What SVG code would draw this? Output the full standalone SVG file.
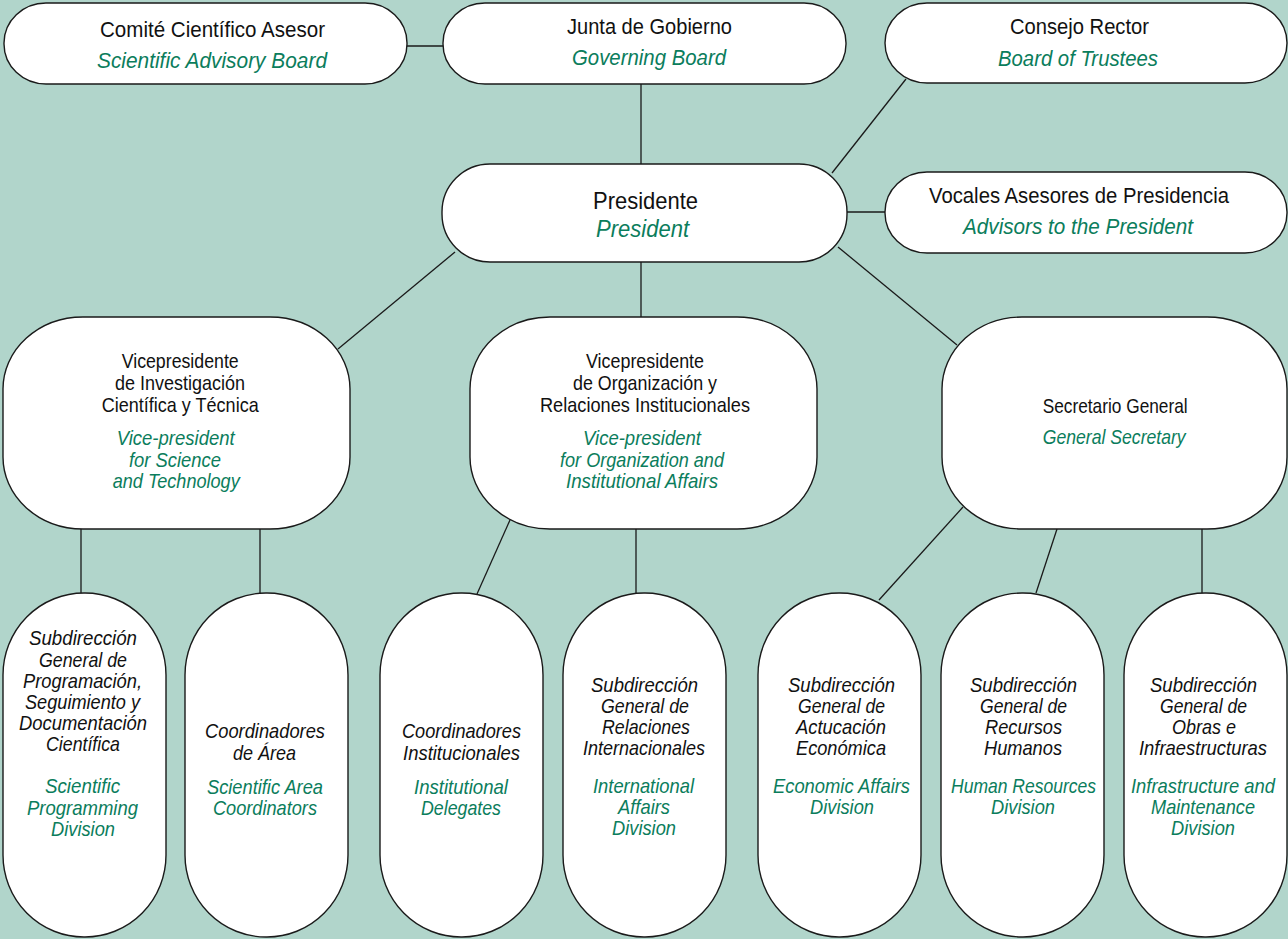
<svg xmlns="http://www.w3.org/2000/svg" width="1288" height="939" viewBox="0 0 1288 939">
<style>
.box{fill:#fff;stroke:#1a1a1a;stroke-width:1.4}
.ln{stroke:#1a1a1a;stroke-width:1.3;fill:none}
text{font-family:"Liberation Sans",Arial,sans-serif;text-anchor:start}
.k{fill:#111}
.g{fill:#0b7d5c;font-style:italic}
.i{font-style:italic}
.s1{font-size:22px}
.s2{font-size:24px}
.s3{font-size:21px}
</style>
<rect width="1288" height="939" fill="#b1d5cb"/>
<g id="connectors">
<line class="ln" x1="407" y1="46" x2="443" y2="46"/>
<line class="ln" x1="641" y1="84" x2="641" y2="164"/>
<line class="ln" x1="906" y1="79" x2="832" y2="173"/>
<line class="ln" x1="847" y1="212" x2="885" y2="212"/>
<line class="ln" x1="455" y1="252" x2="338" y2="349"/>
<line class="ln" x1="641" y1="262" x2="641" y2="317"/>
<line class="ln" x1="838" y1="247" x2="957" y2="345"/>
<line class="ln" x1="81" y1="529" x2="81" y2="593"/>
<line class="ln" x1="260" y1="529" x2="260" y2="593"/>
<line class="ln" x1="510" y1="520" x2="477" y2="594"/>
<line class="ln" x1="636" y1="529" x2="636" y2="593"/>
<line class="ln" x1="963" y1="507" x2="879" y2="600"/>
<line class="ln" x1="1057" y1="529" x2="1036" y2="593"/>
<line class="ln" x1="1202" y1="529" x2="1202" y2="593"/>
</g>
<g id="comite">
<rect class="box" x="4" y="3" width="403" height="81" rx="42" ry="40"/>
<text class="k s1" x="100" y="37" textLength="225" lengthAdjust="spacingAndGlyphs">Comité Científico Asesor</text>
<text class="g s1" x="97" y="68" textLength="230" lengthAdjust="spacingAndGlyphs">Scientific Advisory Board</text>
</g>
<g id="junta">
<rect class="box" x="443" y="3" width="403" height="81" rx="42" ry="40"/>
<text class="k s1" x="567" y="34" textLength="165" lengthAdjust="spacingAndGlyphs">Junta de Gobierno</text>
<text class="g s1" x="572" y="65" textLength="154" lengthAdjust="spacingAndGlyphs">Governing Board</text>
</g>
<g id="consejo">
<rect class="box" x="885" y="3" width="402" height="80" rx="42" ry="40"/>
<text class="k s1" x="1010" y="34" textLength="139" lengthAdjust="spacingAndGlyphs">Consejo Rector</text>
<text class="g s1" x="998" y="66" textLength="160" lengthAdjust="spacingAndGlyphs">Board of Trustees</text>
</g>
<g id="presidente">
<rect class="box" x="442" y="164" width="405" height="98" rx="48" ry="48"/>
<text class="k s2" x="593" y="209" textLength="105" lengthAdjust="spacingAndGlyphs">Presidente</text>
<text class="g s2" x="596" y="237" textLength="93" lengthAdjust="spacingAndGlyphs">President</text>
</g>
<g id="vocales">
<rect class="box" x="885" y="172" width="402" height="81" rx="42" ry="40"/>
<text class="k s1" x="929" y="203" textLength="300" lengthAdjust="spacingAndGlyphs">Vocales Asesores de Presidencia</text>
<text class="g s1" x="963" y="234" textLength="230" lengthAdjust="spacingAndGlyphs">Advisors to the President</text>
</g>
<g id="vp1">
<rect class="box" x="3" y="317" width="347" height="212" rx="80" ry="72"/>
<text class="k s3" x="121.7" y="368" textLength="117" lengthAdjust="spacingAndGlyphs">Vicepresidente</text>
<text class="k s3" x="115" y="390" textLength="130" lengthAdjust="spacingAndGlyphs">de Investigación</text>
<text class="k s3" x="101.7" y="411.5" textLength="157" lengthAdjust="spacingAndGlyphs">Científica y Técnica</text>
<text class="g s3" x="116.7" y="445" textLength="118" lengthAdjust="spacingAndGlyphs">Vice-president</text>
<text class="g s3" x="129" y="466.5" textLength="92" lengthAdjust="spacingAndGlyphs">for Science</text>
<text class="g s3" x="112.7" y="488" textLength="127" lengthAdjust="spacingAndGlyphs">and Technology</text>
</g>
<g id="vp2">
<rect class="box" x="470" y="317" width="347" height="212" rx="80" ry="72"/>
<text class="k s3" x="586" y="368" textLength="118" lengthAdjust="spacingAndGlyphs">Vicepresidente</text>
<text class="k s3" x="573" y="390" textLength="144" lengthAdjust="spacingAndGlyphs">de Organización y</text>
<text class="k s3" x="540" y="411.5" textLength="210" lengthAdjust="spacingAndGlyphs">Relaciones Institucionales</text>
<text class="g s3" x="583" y="445" textLength="118" lengthAdjust="spacingAndGlyphs">Vice-president</text>
<text class="g s3" x="560" y="466.5" textLength="164" lengthAdjust="spacingAndGlyphs">for Organization and</text>
<text class="g s3" x="566" y="488" textLength="152" lengthAdjust="spacingAndGlyphs">Institutional Affairs</text>
</g>
<g id="sg">
<rect class="box" x="942" y="317" width="345" height="212" rx="80" ry="72"/>
<text class="k s3" x="1042.7" y="412.7" textLength="145" lengthAdjust="spacingAndGlyphs">Secretario General</text>
<text class="g s3" x="1042.7" y="444" textLength="143" lengthAdjust="spacingAndGlyphs">General Secretary</text>
</g>
<g id="sub1">
<rect class="box" x="3" y="593" width="163" height="344" rx="81" ry="82"/>
<text class="k s3 i" x="29" y="645" textLength="108" lengthAdjust="spacingAndGlyphs">Subdirección</text>
<text class="k s3 i" x="39" y="666.5" textLength="88" lengthAdjust="spacingAndGlyphs">General de</text>
<text class="k s3 i" x="23" y="688" textLength="119" lengthAdjust="spacingAndGlyphs">Programación,</text>
<text class="k s3 i" x="25" y="709" textLength="115" lengthAdjust="spacingAndGlyphs">Seguimiento y</text>
<text class="k s3 i" x="19" y="730" textLength="128" lengthAdjust="spacingAndGlyphs">Documentación</text>
<text class="k s3 i" x="46" y="751" textLength="74" lengthAdjust="spacingAndGlyphs">Científica</text>
<text class="g s3" x="45" y="793" textLength="75" lengthAdjust="spacingAndGlyphs">Scientific</text>
<text class="g s3" x="27" y="815" textLength="111" lengthAdjust="spacingAndGlyphs">Programming</text>
<text class="g s3" x="51" y="836" textLength="64" lengthAdjust="spacingAndGlyphs">Division</text>
</g>
<g id="sub2">
<rect class="box" x="185" y="593" width="163" height="344" rx="81" ry="82"/>
<text class="k s3 i" x="205" y="738" textLength="120" lengthAdjust="spacingAndGlyphs">Coordinadores</text>
<text class="k s3 i" x="233" y="760" textLength="63" lengthAdjust="spacingAndGlyphs">de Área</text>
<text class="g s3" x="207" y="794" textLength="116" lengthAdjust="spacingAndGlyphs">Scientific Area</text>
<text class="g s3" x="213" y="815" textLength="104" lengthAdjust="spacingAndGlyphs">Coordinators</text>
</g>
<g id="sub3">
<rect class="box" x="380" y="593" width="163" height="344" rx="81" ry="82"/>
<text class="k s3 i" x="402" y="738" textLength="119" lengthAdjust="spacingAndGlyphs">Coordinadores</text>
<text class="k s3 i" x="403" y="760" textLength="117" lengthAdjust="spacingAndGlyphs">Institucionales</text>
<text class="g s3" x="414" y="794" textLength="94" lengthAdjust="spacingAndGlyphs">Institutional</text>
<text class="g s3" x="421" y="815" textLength="80" lengthAdjust="spacingAndGlyphs">Delegates</text>
</g>
<g id="sub4">
<rect class="box" x="563" y="593" width="163" height="344" rx="81" ry="82"/>
<text class="k s3 i" x="591" y="692" textLength="107" lengthAdjust="spacingAndGlyphs">Subdirección</text>
<text class="k s3 i" x="601" y="713" textLength="88" lengthAdjust="spacingAndGlyphs">General de</text>
<text class="k s3 i" x="602" y="734" textLength="88" lengthAdjust="spacingAndGlyphs">Relaciones</text>
<text class="k s3 i" x="583" y="755" textLength="122" lengthAdjust="spacingAndGlyphs">Internacionales</text>
<text class="g s3" x="593" y="793" textLength="101" lengthAdjust="spacingAndGlyphs">International</text>
<text class="g s3" x="618" y="814" textLength="52" lengthAdjust="spacingAndGlyphs">Affairs</text>
<text class="g s3" x="612" y="835" textLength="64" lengthAdjust="spacingAndGlyphs">Division</text>
</g>
<g id="sub5">
<rect class="box" x="758" y="593" width="163" height="344" rx="81" ry="82"/>
<text class="k s3 i" x="788" y="692" textLength="107" lengthAdjust="spacingAndGlyphs">Subdirección</text>
<text class="k s3 i" x="798" y="713" textLength="87" lengthAdjust="spacingAndGlyphs">General de</text>
<text class="k s3 i" x="796" y="734" textLength="90" lengthAdjust="spacingAndGlyphs">Actucación</text>
<text class="k s3 i" x="796" y="755" textLength="90" lengthAdjust="spacingAndGlyphs">Económica</text>
<text class="g s3" x="773" y="793" textLength="137" lengthAdjust="spacingAndGlyphs">Economic Affairs</text>
<text class="g s3" x="810" y="814" textLength="64" lengthAdjust="spacingAndGlyphs">Division</text>
</g>
<g id="sub6">
<rect class="box" x="941" y="593" width="163" height="344" rx="81" ry="82"/>
<text class="k s3 i" x="970" y="692" textLength="107" lengthAdjust="spacingAndGlyphs">Subdirección</text>
<text class="k s3 i" x="980" y="713" textLength="87" lengthAdjust="spacingAndGlyphs">General de</text>
<text class="k s3 i" x="985" y="734" textLength="77" lengthAdjust="spacingAndGlyphs">Recursos</text>
<text class="k s3 i" x="984" y="755" textLength="78" lengthAdjust="spacingAndGlyphs">Humanos</text>
<text class="g s3" x="951" y="793" textLength="145" lengthAdjust="spacingAndGlyphs">Human Resources</text>
<text class="g s3" x="991" y="814" textLength="64" lengthAdjust="spacingAndGlyphs">Division</text>
</g>
<g id="sub7">
<rect class="box" x="1124" y="593" width="163" height="344" rx="81" ry="82"/>
<text class="k s3 i" x="1150" y="692" textLength="107" lengthAdjust="spacingAndGlyphs">Subdirección</text>
<text class="k s3 i" x="1160" y="713" textLength="87" lengthAdjust="spacingAndGlyphs">General de</text>
<text class="k s3 i" x="1172" y="734" textLength="64" lengthAdjust="spacingAndGlyphs">Obras e</text>
<text class="k s3 i" x="1139" y="755" textLength="128" lengthAdjust="spacingAndGlyphs">Infraestructuras</text>
<text class="g s3" x="1131" y="793" textLength="144" lengthAdjust="spacingAndGlyphs">Infrastructure and</text>
<text class="g s3" x="1151" y="814" textLength="104" lengthAdjust="spacingAndGlyphs">Maintenance</text>
<text class="g s3" x="1171" y="835" textLength="64" lengthAdjust="spacingAndGlyphs">Division</text>
</g>
</svg>
